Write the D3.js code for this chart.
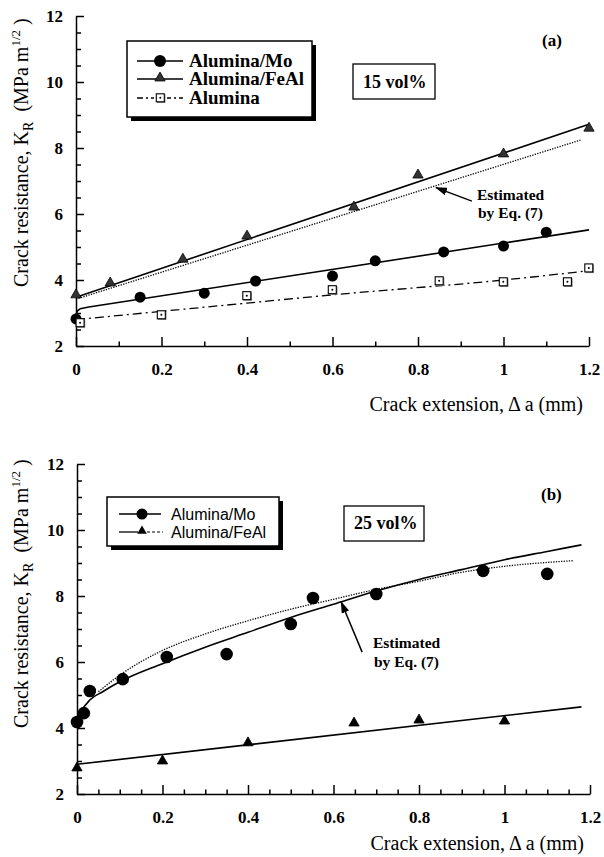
<!DOCTYPE html>
<html>
<head>
<meta charset="utf-8">
<script src="https://cdn.jsdelivr.net/npm/d3@7"></script>
<style>
  body { margin: 0; background: #fff; }
  svg { display: block; }
  .tick text { font-family: "Liberation Serif", serif; font-weight: bold; font-size: 17px; fill: #000; }
  .domain, .tick line { stroke: #000; stroke-width: 1.5; }
</style>
</head>
<body>
<div id="chart"></div>
<script>
// axis ticks
const xTicks = [0, 0.2, 0.4, 0.6, 0.8, 1, 1.2];
const xTickLabels = ["0", "0.2", "0.4", "0.6", "0.8", "1", "1.2"];
const yTicks = [2, 4, 6, 8, 10, 12];
const yTickLabels = ["2", "4", "6", "8", "10", "12"];

// (a) 15 vol%  [crack extension mm, K_R]
const moA = [[0,2.82],[0.15,3.48],[0.3,3.6],[0.42,3.97],[0.6,4.12],[0.7,4.58],[0.86,4.85],[1.0,5.03],[1.1,5.45]];
const feAlA = [[0,3.52],[0.08,3.88],[0.25,4.6],[0.4,5.3],[0.65,6.18],[0.8,7.15],[1.0,7.79],[1.2,8.57]];
const aluA = [[0.01,2.7],[0.2,2.94],[0.4,3.52],[0.6,3.7],[0.85,3.97],[1.0,3.94],[1.15,3.94],[1.2,4.36]];
const moAFit = [[0,2.95],[0.003,3.06],[0.01,3.13],[0.03,3.18],[1.2,5.52]];
const feAlAFit = [[0,3.48],[1.2,8.72]];
const estA = [[0,3.42],[1.18,8.24]];
const aluAFit = [[0,2.8],[0.4,3.3],[0.6,3.55],[1.0,4.0],[1.2,4.28]];

// (b) 25 vol%
const moB = [[0,4.18],[0.016,4.45],[0.03,5.12],[0.107,5.48],[0.21,6.15],[0.35,6.24],[0.5,7.15],[0.552,7.94],[0.7,8.06],[0.95,8.76],[1.1,8.67]];
const feAlB = [[0,2.76],[0.2,2.97],[0.4,3.52],[0.648,4.12],[0.8,4.21],[1.0,4.18]];
const moBFit = [[0,4.2],[0.01,4.5],[0.03,4.85],[0.06,5.1],[0.1,5.4],[0.2,5.95],[0.3,6.45],[0.4,6.9],[0.5,7.35],[0.6,7.75],[0.7,8.15],[0.8,8.5],[0.9,8.8],[1.0,9.1],[1.1,9.35],[1.18,9.55]];
const estB = [[0.05,5.1],[0.1,5.6],[0.2,6.35],[0.3,6.85],[0.4,7.25],[0.5,7.6],[0.6,7.9],[0.7,8.2],[0.8,8.45],[0.9,8.72],[1.0,8.9],[1.16,9.07]];
const feAlBFit = [[0,2.9],[1.18,4.64]];

const serif = '"Liberation Serif", "Times New Roman", serif';
const sans = '"Liberation Sans", Arial, sans-serif';

let svg = d3.select("#chart").append("svg")
  .attr("width", 604)
  .attr("height", 857);

svg.append("defs").append("marker")
  .attr("id", "arrow")
  .attr("markerUnits", "userSpaceOnUse")
  .attr("markerWidth", 12).attr("markerHeight", 8)
  .attr("refX", 11).attr("refY", 4)
  .attr("orient", "auto")
  .append("path")
  .attr("d", "M0,0 L12,4 L0,8 Z")
  .attr("fill", "#000");

//build one panel's axes and return its scales
function makePanel(xRange, yRange, xMinorStep, titleBase, ytitleStart) {
  let x = d3.scaleLinear().domain([0, 1.2]).range(xRange);
  let y = d3.scaleLinear().domain([2, 12]).range(yRange);
  let g = svg.append("g");

  let xMinor = d3.range(0, 1.2001, xMinorStep).filter(v => xTicks.every(t => Math.abs(t - v) > 1e-6));
  let yMinor = d3.range(2, 12.001, 0.5).filter(v => v % 2 != 0);

  g.append("g")
    .attr("transform", `translate(0,${yRange[0]})`)
    .call(d3.axisBottom(x).tickValues(xMinor).tickSizeInner(-4.5).tickSizeOuter(0).tickFormat(""))
    .select(".domain").remove();
  g.append("g")
    .attr("transform", `translate(0,${yRange[0]})`)
    .call(d3.axisBottom(x).tickValues(xTicks).tickSizeInner(-9).tickSizeOuter(0).tickPadding(17)
      .tickFormat((d, i) => xTickLabels[i]));

  g.append("g")
    .attr("transform", `translate(${xRange[0]},0)`)
    .call(d3.axisLeft(y).tickValues(yMinor).tickSizeInner(-5).tickSizeOuter(0).tickFormat(""))
    .select(".domain").remove();
  g.append("g")
    .attr("transform", `translate(${xRange[0]},0)`)
    .call(d3.axisLeft(y).tickValues(yTicks).tickSizeInner(-8).tickSizeOuter(0).tickPadding(13)
      .tickFormat((d, i) => yTickLabels[i]));

  g.selectAll(".tick text").attr("font-family", null).attr("font-size", null);

  //x axis title
  let xt = g.append("text")
    .attr("x", xRange[1] - 6)
    .attr("y", titleBase)
    .attr("text-anchor", "end")
    .style("font-family", serif)
    .style("font-size", "20px");
  xt.text("Crack extension,\u2009\u0394 a (mm)");

  //y axis title
  let yt = g.append("text")
    .attr("transform", `translate(28,${ytitleStart}) rotate(-90)`)
    .style("font-family", serif)
    .style("font-size", "20px");
  yt.append("tspan").text("Crack resistance, K");
  yt.append("tspan").attr("dy", 5).style("font-size", "14px").text("R");
  yt.append("tspan").attr("dy", -5).text("\u00a0 (MPa m");
  yt.append("tspan").attr("dy", -8).style("font-size", "13px").text("1/2");
  yt.append("tspan").attr("dy", 8).text("\u00a0)");

  return { g: g, x: x, y: y };
}

function drawLine(p, data, dash, width) {
  p.g.append("path")
    .datum(data)
    .attr("fill", "none")
    .attr("stroke", "#000")
    .attr("stroke-width", width)
    .attr("stroke-dasharray", dash)
    .attr("d", d3.line().x(d => p.x(d[0])).y(d => p.y(d[1])).curve(d3.curveMonotoneX));
}

function drawCircles(p, data, r) {
  p.g.selectAll(null).data(data).enter()
    .append("circle")
    .attr("cx", d => p.x(d[0]))
    .attr("cy", d => p.y(d[1]))
    .attr("r", r)
    .attr("fill", "#000");
}

function drawTriangles(p, data, fill) {
  p.g.selectAll(null).data(data).enter()
    .append("path")
    .attr("d", d3.symbol(d3.symbolTriangle, 46))
    .attr("transform", d => `translate(${p.x(d[0])},${p.y(d[1]) - 1})`)
    .attr("fill", fill)
    .attr("stroke", "#000")
    .attr("stroke-width", 0.8);
}

function squareAt(g, cx, cy) {
  g.append("rect").attr("x", cx - 3.5).attr("y", cy - 3.5).attr("width", 8.5).attr("height", 8.5).attr("fill", "#8c8c8c");
  g.append("rect").attr("x", cx - 4.2).attr("y", cy - 4.2).attr("width", 8).attr("height", 8)
    .attr("fill", "#fff").attr("stroke", "#000").attr("stroke-width", 1.1);
  g.append("circle").attr("cx", cx - 0.2).attr("cy", cy - 0.2).attr("r", 1).attr("fill", "#000");
}

function boxWithShadow(x0, y0, w, h) {
  svg.append("rect").attr("x", x0 + 4).attr("y", y0 + 4).attr("width", w).attr("height", h).attr("fill", "#000");
  svg.append("rect").attr("x", x0).attr("y", y0).attr("width", w).attr("height", h)
    .attr("fill", "#fff").attr("stroke", "#000").attr("stroke-width", 1.5);
}

function label(x0, y0, txt, font, size, weight) {
  svg.append("text")
    .attr("x", x0).attr("y", y0)
    .style("font-family", font)
    .style("font-size", size + "px")
    .style("font-weight", weight)
    .text(txt);
}

//panel (a)
let pa = makePanel([76, 589], [346, 16], 0.1, 411, 287);
drawLine(pa, aluAFit, "9,4,2,4", 1.3);
drawLine(pa, estA, "1.3,1.3", 1.3);
drawLine(pa, feAlAFit, null, 1.6);
pa.g.append("path")
  .datum(moAFit)
  .attr("fill", "none").attr("stroke", "#000").attr("stroke-width", 1.6)
  .attr("d", d3.line().x(d => pa.x(d[0])).y(d => pa.y(d[1])));
drawCircles(pa, moA, 5.5);
drawTriangles(pa, feAlA, "#333");
aluA.forEach(d => squareAt(pa.g, pa.x(d[0]), pa.y(d[1])));

pa.g.append("line")
  .attr("x1", pa.x(0.926)).attr("y1", pa.y(6.39))
  .attr("x2", pa.x(0.842)).attr("y2", pa.y(6.8))
  .attr("stroke", "#000").attr("stroke-width", 1.5)
  .attr("marker-end", "url(#arrow)");
label(477, 200, "Estimated", serif, 15.5, "bold");
label(478, 218, "by Eq. (7)", serif, 15.5, "bold");
label(542, 46, "(a)", serif, 17, "bold");

svg.append("rect").attr("x", 353).attr("y", 64).attr("width", 82).attr("height", 35)
  .attr("fill", "#fff").attr("stroke", "#000").attr("stroke-width", 1.3);
label(363, 88, "15 vol%", serif, 18, "bold");

//legend (a)
boxWithShadow(127, 41, 185, 76);
let legA = svg.append("g");
legA.append("line").attr("x1", 137).attr("x2", 183).attr("y1", 61).attr("y2", 61).attr("stroke", "#000").attr("stroke-width", 1.5);
legA.append("circle").attr("cx", 160).attr("cy", 61).attr("r", 6).attr("fill", "#000");
legA.append("line").attr("x1", 137).attr("x2", 183).attr("y1", 79).attr("y2", 79).attr("stroke", "#000").attr("stroke-width", 1.5);
legA.append("path").attr("d", d3.symbol(d3.symbolTriangle, 46)).attr("transform", "translate(160,78)")
  .attr("fill", "#333").attr("stroke", "#000").attr("stroke-width", 0.8);
legA.append("line").attr("x1", 137).attr("x2", 183).attr("y1", 98).attr("y2", 98).attr("stroke", "#000")
  .attr("stroke-width", 1.3).attr("stroke-dasharray", "6,3,2,3");
legA.append("rect").attr("x", 154).attr("y", 92).attr("width", 13).attr("height", 12).attr("fill", "#fff");
squareAt(legA, 160.5, 98);
label(189, 67, "Alumina/Mo", serif, 19, "bold");
label(189, 85, "Alumina/FeAl", serif, 19, "bold");
label(189, 104, "Alumina", serif, 19, "bold");

//panel (b)
let pb = makePanel([77, 590], [794, 464], 0.05, 850, 728);
drawLine(pb, estB, "1.3,1.3", 1.3);
drawLine(pb, moBFit, null, 1.6);
drawLine(pb, feAlBFit, null, 1.6);
drawCircles(pb, moB, 6.3);
drawTriangles(pb, feAlB, "#000");

pb.g.append("line")
  .attr("x1", pb.x(0.667)).attr("y1", pb.y(6.3))
  .attr("x2", pb.x(0.618)).attr("y2", pb.y(7.82))
  .attr("stroke", "#000").attr("stroke-width", 1.5)
  .attr("marker-end", "url(#arrow)");
label(373, 648, "Estimated", serif, 15.5, "bold");
label(374, 667, "by Eq. (7)", serif, 15.5, "bold");
label(541, 500, "(b)", serif, 17, "bold");

svg.append("rect").attr("x", 344).attr("y", 506).attr("width", 80).attr("height", 35)
  .attr("fill", "#fff").attr("stroke", "#000").attr("stroke-width", 1.3);
label(354, 529, "25 vol%", serif, 18, "bold");

//legend (b)
boxWithShadow(107, 497, 172, 49);
let legB = svg.append("g");
legB.append("line").attr("x1", 119).attr("x2", 161).attr("y1", 514).attr("y2", 514).attr("stroke", "#000").attr("stroke-width", 1.3);
legB.append("circle").attr("cx", 142).attr("cy", 514).attr("r", 5.5).attr("fill", "#000");
legB.append("line").attr("x1", 119).attr("x2", 138).attr("y1", 532).attr("y2", 532).attr("stroke", "#000").attr("stroke-width", 1.3);
legB.append("line").attr("x1", 147).attr("x2", 163).attr("y1", 532).attr("y2", 532).attr("stroke", "#000")
  .attr("stroke-width", 1.2).attr("stroke-dasharray", "3,2");
legB.append("path").attr("d", d3.symbol(d3.symbolTriangle, 40)).attr("transform", "translate(142,531)").attr("fill", "#000");
label(171, 520, "Alumina/Mo", sans, 16, "normal");
label(171, 538, "Alumina/FeAl", sans, 16, "normal");
</script>
</body>
</html>
